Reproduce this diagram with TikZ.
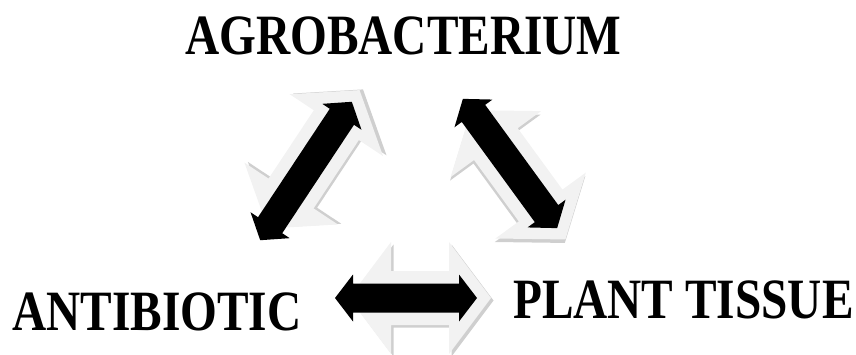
\documentclass[tikz,border=0pt]{standalone}
\usepackage{fontspec}
\setmainfont{Liberation Serif}
\tikzset{
  lbl/.style={inner sep=0pt, anchor=base west, font=\fontsize{57}{60}\selectfont\bfseries},
  blk/.style={fill=black},
  glow/.style={fill=gray!10},
  shade/.style={fill=gray!38},
}
% #1 style, #2 half length, #3 shaft half width, #4 head half width, #5 head length
\newcommand\dblarr[5]{%
  \fill[#1] (-#2,0) -- (-#2+#5,#4) -- (-#2+#5,#3) -- (#2-#5,#3) -- (#2-#5,#4) -- (#2,0)
    -- (#2-#5,-#4) -- (#2-#5,-#3) -- (-#2+#5,-#3) -- (-#2+#5,-#4) -- cycle;}
\newcommand\fullarr[1]{% #1 = half length of black arrow
  \begin{scope}[shift={(2.5,-2.5)}]\dblarr{shade}{#1+14}{27}{56}{42}\end{scope}
  \dblarr{glow}{#1+14}{27}{56}{42}
  \dblarr{blk}{#1}{14.5}{23.5}{18}}
\begin{document}
\begin{tikzpicture}[x=1pt,y=1pt]
\useasboundingbox (0,0) rectangle (856,354);
% labels
\node[lbl] (agro) at (185,299) {\scalebox{0.83}[1]{AGROBACTERIUM}};
\node[lbl] (anti) at (12,24) {\scalebox{0.83}[1]{ANTIBIOTIC}};
\node[lbl] (plant) at (513,36) {\scalebox{0.83}[1]{PLANT TISSUE}};
% arrow centres
\coordinate (hc) at (406,56);
\coordinate (lc) at (306,183);
\coordinate (rc) at (510,190.5);
% horizontal arrow
\begin{scope}[shift={(hc)}]\fullarr{71}\end{scope}
% left diagonal arrow
\begin{scope}[shift={(lc)}, rotate=56.5]\fullarr{83}\end{scope}
% right diagonal arrow
\begin{scope}[shift={(rc)}, rotate=-53.9]\fullarr{80}\end{scope}
\end{tikzpicture}
\end{document}
